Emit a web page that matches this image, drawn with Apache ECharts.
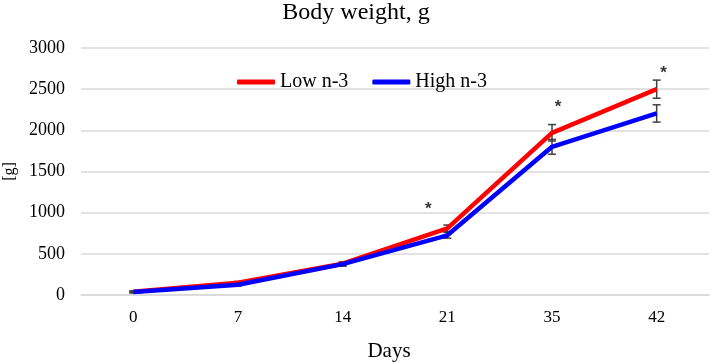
<!DOCTYPE html>
<html>
<head>
<meta charset="utf-8">
<script src="https://cdn.jsdelivr.net/npm/echarts@6/dist/echarts.min.js"></script>
<style>
  html, body { margin: 0; padding: 0; background: #fff; }
  #main { width: 712px; height: 362px; }
</style>
</head>
<body>
<div id="main"></div>
<script>
// days on the x axis
const days = ["0", "7", "14", "21", "35", "42"];
// mean body weight, g
const lowN3 = [40, 150, 380, 810, 1970, 2500];
const highN3 = [35, 125, 375, 725, 1800, 2205];
// standard error for each point
const lowErr = [10, 15, 20, 40, 100, 110];
const highErr = [10, 15, 25, 35, 90, 105];
// significance marks: [day index, height of the mark in g, x nudge]
const starMarks = [[3, 1045, -19], [4, 2285, 6], [5, 2690, 7]];

const serif = "Liberation Serif";

const chart = echarts.init(document.getElementById("main"));

// error bar with small caps
function errorBarItem(params, api) {
  const x = api.value(0);
  const hi = api.coord([x, api.value(1)]);
  const lo = api.coord([x, api.value(2)]);
  const w = 4;
  const style = { stroke: "#404040", lineWidth: 1.5 };
  return {
    type: "group",
    children: [
      { type: "line", shape: { x1: hi[0], y1: hi[1], x2: lo[0], y2: lo[1] }, style: style },
      { type: "line", shape: { x1: hi[0] - w, y1: hi[1], x2: hi[0] + w, y2: hi[1] }, style: style },
      { type: "line", shape: { x1: lo[0] - w, y1: lo[1], x2: lo[0] + w, y2: lo[1] }, style: style }
    ]
  };
}

const lowBars = lowN3.map((v, i) => [i, v + lowErr[i], v - lowErr[i]]);
const highBars = highN3.map((v, i) => [i, v + highErr[i], v - highErr[i]]);

const option = {
  animation: false,
  textStyle: { fontFamily: serif },
  title: {
    text: "Body weight, g",
    left: "center",
    top: -4,
    textStyle: { fontFamily: serif, fontSize: 24, fontWeight: "normal", color: "#000" }
  },
  legend: {
    data: ["Low n-3", "High n-3"],
    top: 72,
    left: 237,
    padding: 0,
    itemGap: 24,
    itemWidth: 38,
    itemHeight: 5,
    icon: "roundRect",
    textStyle: { fontFamily: serif, fontSize: 20, color: "#000" }
  },
  grid: { left: 81, right: 3, top: 48, bottom: 67, outerBoundsMode: "none" },
  xAxis: {
    type: "category",
    data: days,
    boundaryGap: true,
    name: "Days",
    nameLocation: "middle",
    nameGap: 46,
    nameTextStyle: { fontFamily: serif, fontSize: 21, color: "#000", padding: [0, 12, 0, 0] },
    axisLine: { show: true, lineStyle: { color: "#d9d9d9", width: 1.5 } },
    axisTick: { show: false },
    axisLabel: { fontFamily: serif, fontSize: 17, color: "#000", margin: 14 }
  },
  yAxis: {
    type: "value",
    min: 0,
    max: 3000,
    interval: 500,
    name: "[g]",
    nameLocation: "middle",
    nameRotate: 90,
    nameGap: 62,
    nameTextStyle: { fontFamily: serif, fontSize: 16, color: "#000" },
    axisLine: { show: false },
    axisTick: { show: false },
    axisLabel: { fontFamily: serif, fontSize: 18, color: "#000", margin: 16, formatter: v => String(v) },
    splitLine: { lineStyle: { color: "#d9d9d9", width: 1.5 } }
  },
  series: [
    {
      name: "errLow",
      type: "custom",
      renderItem: errorBarItem,
      data: lowBars,
      encode: { x: 0, y: [1, 2] },
      z: 1
    },
    {
      name: "errHigh",
      type: "custom",
      renderItem: errorBarItem,
      data: highBars,
      encode: { x: 0, y: [1, 2] },
      z: 1
    },
    {
      name: "Low n-3",
      type: "line",
      data: lowN3,
      symbol: "none",
      itemStyle: { color: "#ff0000" },
      lineStyle: { color: "#ff0000", width: 4.5 },
      z: 3
    },
    {
      name: "High n-3",
      type: "line",
      data: highN3,
      symbol: "none",
      itemStyle: { color: "#0000ff" },
      lineStyle: { color: "#0000ff", width: 4.5 },
      z: 4
    },
    {
      name: "stars",
      type: "scatter",
      symbolSize: 1,
      itemStyle: { color: "transparent" },
      data: starMarks.map(s => ({
        value: [s[0], s[1]],
        label: { offset: [s[2], 0] }
      })),
      label: {
        show: true,
        position: "inside",
        formatter: "*",
        fontFamily: "Liberation Sans",
        fontSize: 17,
        fontWeight: "bold",
        color: "#000"
      },
      z: 5
    }
  ]
};

chart.setOption(option);
</script>
</body>
</html>
